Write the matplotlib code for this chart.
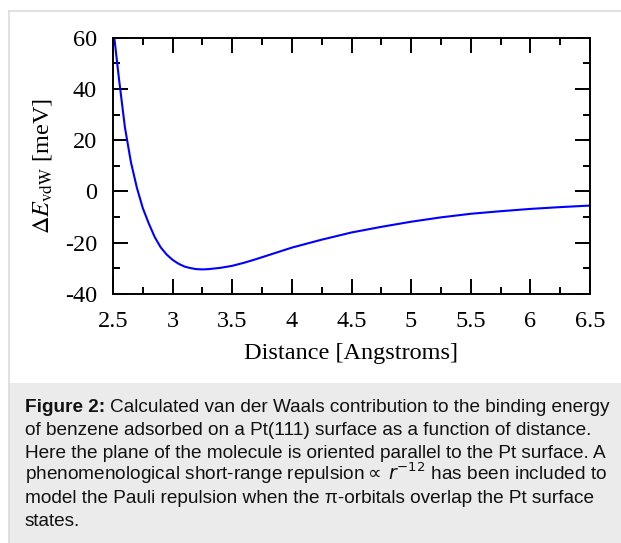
import matplotlib
matplotlib.use("Agg")
import matplotlib.pyplot as plt
from matplotlib.patches import Rectangle
from matplotlib.lines import Line2D
from matplotlib.ticker import MultipleLocator

# distance [Angstroms] and vdW energy [meV]
distance = [2.50, 2.55, 2.60, 2.65, 2.70, 2.75, 2.80, 2.85, 2.90, 2.95,
            3.00, 3.05, 3.10, 3.15, 3.20, 3.25, 3.30, 3.40, 3.50, 3.60,
            3.70, 3.80, 3.90, 4.00, 4.25, 4.50, 4.75, 5.00, 5.25, 5.50,
            5.75, 6.00, 6.25, 6.50]
energy = [64.5, 44.0, 25.0, 11.5, 1.5, -6.5, -12.5, -17.8, -21.8, -24.6,
          -26.7, -28.2, -29.3, -29.9, -30.3, -30.4, -30.3, -29.8, -29.0, -27.8,
          -26.4, -24.9, -23.4, -21.9, -18.8, -16.0, -13.8, -11.8, -10.1, -8.7,
          -7.7, -6.8, -6.1, -5.5]

x_ticks = [2.5, 3, 3.5, 4, 4.5, 5, 5.5, 6, 6.5]
x_tick_labels = ["2.5", "3", "3.5", "4", "4.5", "5", "5.5", "6", "6.5"]
y_ticks = [-40, -20, 0, 20, 40, 60]
y_tick_labels = ["-40", "-20", "0", "20", "40", "60"]

caption_lines = [
    "of benzene adsorbed on a Pt(111) surface as a function of distance.",
    "Here the plane of the molecule is oriented parallel to the Pt surface. A",
    r"phenomenological short-range repulsion$\propto\,r^{-12}$ has been included to",
    "model the Pauli repulsion when the \u03c0-orbitals overlap the Pt surface",
    "states.",
]

W, H = 621, 543
fig = plt.figure(figsize=(W / 100, H / 100), dpi=100)
fig.patch.set_facecolor("white")

# thin frame around the figure panel and grey caption box
fig.add_artist(Line2D([8.5 / W, 8.5 / W], [0, 1 - 10.5 / H], color="#dcdcdc", lw=1.2))
fig.add_artist(Line2D([8.5 / W, 1], [1 - 10.5 / H, 1 - 10.5 / H], color="#dcdcdc", lw=1.2))
fig.add_artist(Rectangle((8 / W, 0), 1 - 8 / W, 1 - 382.5 / H,
                         transform=fig.transFigure, facecolor="#ebebeb",
                         edgecolor="none"))

ax = fig.add_axes([113 / W, 1 - 294 / H, (590 - 113) / W, (294 - 37.7) / H])
ax.plot(distance, energy, color="#0000ff", lw=1.5)

ax.set_xlim(2.5, 6.5)
ax.set_ylim(-40, 60)
ax.set_xticks(x_ticks)
ax.set_xticklabels(x_tick_labels)
ax.set_yticks(y_ticks)
ax.set_yticklabels(y_tick_labels)
ax.xaxis.set_minor_locator(MultipleLocator(0.25))
ax.yaxis.set_minor_locator(MultipleLocator(10))

serif = "Liberation Serif"
ax.tick_params(which="both", direction="in", top=True, right=True, width=1.4, color="black")
ax.tick_params(which="major", length=10.5)
ax.tick_params(which="minor", length=5.2)
ax.tick_params(axis="x", which="major", pad=12.5)
ax.tick_params(axis="y", which="major", pad=11.5)
for lab in ax.get_xticklabels() + ax.get_yticklabels():
    lab.set_fontfamily(serif)
    lab.set_fontsize(17.5)
for s in ax.spines.values():
    s.set_linewidth(1.4)

ax.set_xlabel("Distance [Angstroms]", fontfamily=serif, fontsize=17.5, labelpad=8)
ax.set_ylabel(r"$\Delta E_{\mathrm{vdW}}$ [meV]", fontfamily=serif, fontsize=17.5,
              math_fontfamily="stix", labelpad=8)

# caption
cap_x = 25 / W
base0 = 412.3
step = 22.7
cap_size = 13.7
t1 = fig.text(cap_x, 1 - base0 / H, "Figure 2:", fontfamily="Liberation Sans",
              fontweight="bold", fontsize=cap_size, va="baseline", color="#111111")
fig.canvas.draw()
bb = t1.get_window_extent()
fig.text(bb.x1 / W + 5 / W, 1 - base0 / H,
         "Calculated van der Waals contribution to the binding energy",
         fontfamily="Liberation Sans", fontsize=cap_size, va="baseline", color="#111111")
for i, line in enumerate(caption_lines):
    fig.text(cap_x, 1 - (base0 + step * (i + 1)) / H, line,
             fontfamily="Liberation Sans", fontsize=cap_size, va="baseline",
             color="#111111", math_fontfamily="dejavusans")

plt.savefig("out.png", dpi=100)
